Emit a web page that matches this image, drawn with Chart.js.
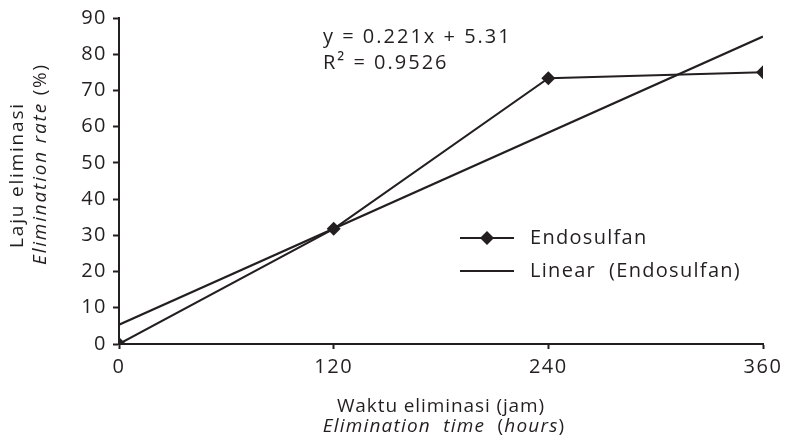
<!DOCTYPE html>
<html>
<head>
<meta charset="utf-8">
<script src="https://cdn.jsdelivr.net/npm/chart.js@4"></script>
<style>
  html, body { margin: 0; padding: 0; background: #fff; }
  #wrap { width: 791px; height: 447px; position: relative; }
</style>
</head>
<body>
<div id="wrap"><canvas id="chart"></canvas></div>
<script>
// data
const hours = [0, 120, 240, 360];
const endosulfan = [0, 31.8, 73.4, 75.0];
const fitHours = [0, 360];
const fitValues = [5.31, 84.87];   // y = 0.221x + 5.31
const xTicks = [0, 120, 240, 360];
const yTicks = [0, 10, 20, 30, 40, 50, 60, 70, 80, 90];
const seriesLabels = ['Endosulfan', 'Linear  (Endosulfan)'];
const equationText = ['y = 0.221x + 5.31', 'R² = 0.9526'];

const ink = '#231f20';
const family = '"Open Sans", sans-serif';

// draw a line made of differently styled pieces, centred on cx
function drawPieces(ctx, pieces, cx, cy, size, spacing) {
  ctx.letterSpacing = spacing + 'px';
  let total = 0;
  const widths = pieces.map(p => {
    ctx.font = (p.italic ? 'italic ' : '') + size + 'px ' + family;
    const w = ctx.measureText(p.text).width;
    total += w;
    return w;
  });
  let x = cx - total / 2;
  pieces.forEach((p, i) => {
    ctx.font = (p.italic ? 'italic ' : '') + size + 'px ' + family;
    ctx.fillText(p.text, x, cy);
    x += widths[i];
  });
}

const textPlugin = {
  id: 'textPlugin',
  beforeDraw(chart) {
    chart.ctx.letterSpacing = '1.5px';
  },
  afterDraw(chart) {
    const ctx = chart.ctx;
    ctx.save();
    ctx.fillStyle = ink;
    ctx.textBaseline = 'middle';
    ctx.textAlign = 'left';

    // x axis title
    drawPieces(ctx, [{text: 'Waktu eliminasi (jam)'}], 441, 407, 19, 0.9);
    drawPieces(ctx, [
      {text: 'Elimination', italic: true},
      {text: '  '},
      {text: 'time', italic: true},
      {text: '  ('},
      {text: 'hours', italic: true},
      {text: ')'}
    ], 444, 427, 19, 1.2);

    // y axis title
    ctx.save();
    ctx.rotate(-Math.PI / 2);
    drawPieces(ctx, [{text: 'Laju eliminasi'}], -175, 18, 19, 1.8);
    drawPieces(ctx, [
      {text: 'Elimination rate', italic: true},
      {text: ' (%)'}
    ], -164, 41, 19, 1.8);
    ctx.restore();

    // regression equation
    ctx.letterSpacing = '2px';
    ctx.font = '20px ' + family;
    ctx.fillText(equationText[0], 323, 37);
    ctx.fillText(equationText[1], 323, 63);

    // legend
    const lx0 = 460, lx1 = 514, tx = 530;
    const rows = [238, 271];
    chart.data.datasets.forEach((ds, i) => {
      const y = rows[i];
      ctx.strokeStyle = ink;
      ctx.lineWidth = 2;
      ctx.beginPath();
      ctx.moveTo(lx0, y);
      ctx.lineTo(lx1, y);
      ctx.stroke();
      if (ds.pointRadius > 0) {
        ctx.beginPath();
        ctx.moveTo(487 - 7, y);
        ctx.lineTo(487, y - 7);
        ctx.lineTo(487 + 7, y);
        ctx.lineTo(487, y + 7);
        ctx.closePath();
        ctx.fillStyle = ink;
        ctx.fill();
      }
      ctx.fillStyle = ink;
      ctx.letterSpacing = '1.3px';
      ctx.font = '20px ' + family;
      ctx.fillText(ds.label, tx, y);
    });
    ctx.restore();
  }
};

new Chart(document.getElementById('chart'), {
  type: 'scatter',
  data: {
    datasets: [
      {
        label: seriesLabels[0],
        data: hours.map((h, i) => ({x: h, y: endosulfan[i]})),
        showLine: true,
        borderColor: ink,
        backgroundColor: ink,
        borderWidth: 2,
        pointStyle: 'rectRot',
        pointRadius: 7,
        pointBorderWidth: 0,
        tension: 0
      },
      {
        label: seriesLabels[1],
        data: fitHours.map((h, i) => ({x: h, y: fitValues[i]})),
        showLine: true,
        borderColor: ink,
        borderWidth: 2.2,
        pointRadius: 0,
        tension: 0
      }
    ]
  },
  options: {
    responsive: true,
    maintainAspectRatio: false,
    animation: false,
    layout: {padding: {top: 15, right: 28, left: 0, bottom: 0}},
    plugins: {legend: {display: false}, tooltip: {enabled: false}},
    scales: {
      x: {
        type: 'linear',
        min: 0, max: 360,
        afterBuildTicks: s => { s.ticks = xTicks.map(v => ({value: v})); },
        afterFit: s => { s.height = 103; },
        grid: {drawOnChartArea: false, drawTicks: true, tickLength: 5, tickColor: ink, tickWidth: 2},
        border: {color: ink, width: 2},
        ticks: {color: ink, font: {family: family, size: 20}, padding: 6, maxRotation: 0}
      },
      y: {
        min: 0, max: 90,
        afterBuildTicks: s => { s.ticks = yTicks.map(v => ({value: v})); },
        afterFit: s => { s.width = 119; },
        grid: {drawOnChartArea: false, drawTicks: true, tickLength: 6, tickColor: ink, tickWidth: 2},
        border: {color: ink, width: 2},
        ticks: {color: ink, font: {family: family, size: 20}, padding: 6}
      }
    }
  },
  plugins: [textPlugin]
});
</script>
</body>
</html>
